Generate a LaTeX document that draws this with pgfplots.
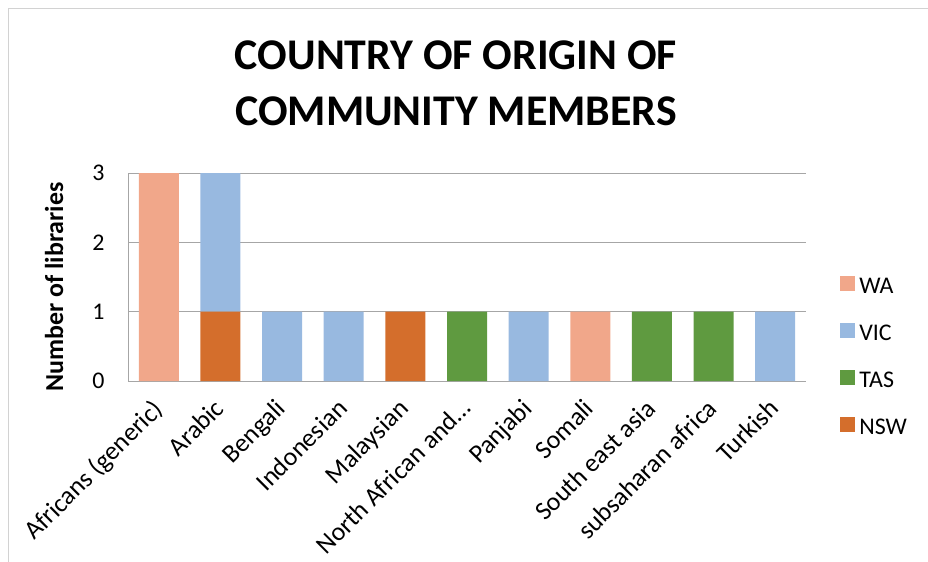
\documentclass[border=0pt]{standalone}
\usepackage{fontspec}
\setmainfont{Carlito}
\usepackage{pgfplots}
\pgfplotsset{compat=1.18}

\definecolor{waC}{HTML}{F1A78A}
\definecolor{vicC}{HTML}{98B9E0}
\definecolor{tasC}{HTML}{5F9A40}
\definecolor{nswC}{HTML}{D46E2C}
\definecolor{gridC}{HTML}{A6A6A6}

\begin{document}
\begin{tikzpicture}
% canvas and outer frame
\useasboundingbox (0bp,0bp) rectangle (928bp,-562bp);
\draw[gray!35, line width=1bp] (8bp,-562bp) -- (8bp,-8bp) -- (928bp,-8bp);

% title
\node[font={\fontsize{44}{56}\selectfont\bfseries}, align=center, anchor=north]
  at (456bp,-37bp) {COUNTRY OF ORIGIN OF\\COMMUNITY MEMBERS};

\begin{axis}[
  at={(128bp,-381bp)}, anchor=south west,
  scale only axis, width=678bp, height=208bp,
  ybar stacked, bar width=40bp,
  xmin=-0.5, xmax=10.5, ymin=0, ymax=3,
  xtick={0,...,10},
  xticklabels={Africans (generic),Arabic,Bengali,Indonesian,Malaysian,North African and\dots,Panjabi,Somali,South east asia,subsaharan africa,Turkish},
  x tick label style={rotate=45, anchor=north east, inner sep=1bp, xshift=-16bp, yshift=-5bp,
    font=\fontsize{26}{28}\selectfont},
  ytick={0,1,2,3},
  y tick label style={font=\fontsize{24}{28}\selectfont},
  /pgf/number format/assume math mode=true,
  major tick length=0pt,
  ymajorgrids, grid style={gridC, line width=1bp},
  axis line style={gridC, line width=1bp},
  axis x line*=bottom, axis y line*=left,
  ylabel={Number of libraries},
  ylabel style={font=\fontsize{26}{30}\selectfont\bfseries, at={(rel axis cs:-0.109,0.452)}, anchor=center},
  yticklabel style={xshift=-20bp},
  legend style={at={(1.046,0.52)}, anchor=north west, draw=none, fill=none,
    font=\fontsize{24}{28}\selectfont, row sep=28bp,
    nodes={inner xsep=4bp, inner ysep=1bp, text height=17bp, text depth=0bp},
    cells={anchor=west}},
  legend image code/.code={\fill[#1] (0bp,-6bp) rectangle (15bp,9bp);},
  reverse legend,
]
% stacked from the bottom: NSW, TAS, VIC, WA
\addplot[fill=nswC, draw=none] coordinates {(0,0) (1,1) (2,0) (3,0) (4,1) (5,0) (6,0) (7,0) (8,0) (9,0) (10,0)};
\addlegendentry{NSW}
\addplot[fill=tasC, draw=none] coordinates {(0,0) (1,0) (2,0) (3,0) (4,0) (5,1) (6,0) (7,0) (8,1) (9,1) (10,0)};
\addlegendentry{TAS}
\addplot[fill=vicC, draw=none] coordinates {(0,0) (1,2) (2,1) (3,1) (4,0) (5,0) (6,1) (7,0) (8,0) (9,0) (10,1)};
\addlegendentry{VIC}
\addplot[fill=waC, draw=none] coordinates {(0,3) (1,0) (2,0) (3,0) (4,0) (5,0) (6,0) (7,1) (8,0) (9,0) (10,0)};
\addlegendentry{WA}
\end{axis}
\end{tikzpicture}
\end{document}
